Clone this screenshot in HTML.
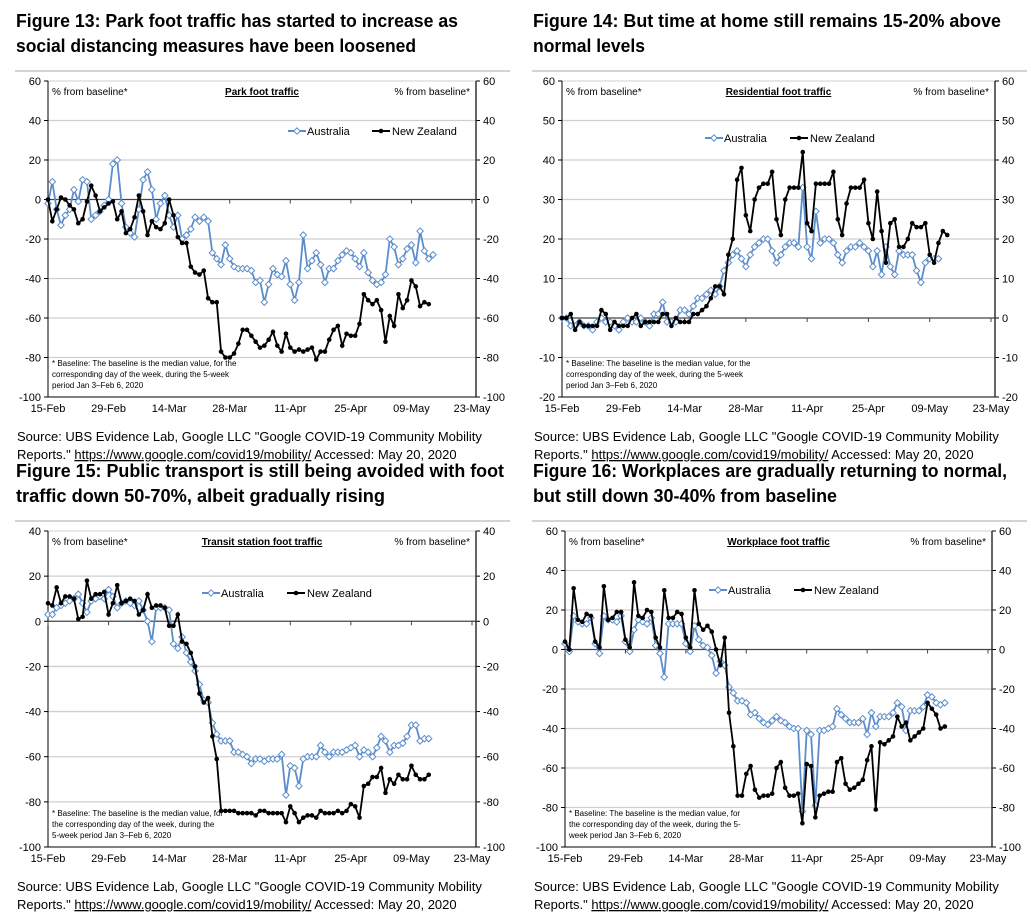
<!DOCTYPE html>
<html><head><meta charset="utf-8"><style>
body{margin:0;background:#fff}
svg{display:block;font-family:"Liberation Sans",Arial,sans-serif}
</style></head><body>
<svg id="root" width="1030" height="923" viewBox="0 0 1030 923" xmlns="http://www.w3.org/2000/svg"></svg>
<script>
const dateTicks=["15-Feb","29-Feb","14-Mar","28-Mar","11-Apr","25-Apr","09-May","23-May"];
const parkAU=[-2,9,-5,-13,-8,-5,5,-1,10,9,-10,-8,-6,-3,0,18,20,-2,-14,-17,-19,-5,10,14,5,-10,-2,2,-8,-14,-8,-20,-18,-15,-9,-11,-9,-11,-27,-30,-33,-23,-30,-34,-35,-35,-35,-36,-42,-41,-52,-43,-35,-38,-39,-31,-43,-51,-42,-18,-35,-31,-27,-33,-42,-35,-35,-31,-28,-26,-27,-30,-34,-27,-37,-41,-43,-42,-38,-20,-24,-33,-30,-25,-23,-32,-16,-26,-30,-28];
const parkNZ=[0,-11,-5,1,0,-3,-5,-12,-10,-1,7,2,-6,-4,-2,-1,-10,-6,-17,-15,-9,2,-6,-18,-11,-14,-15,-12,0,-8,-19,-22,-22,-34,-37,-38,-36,-50,-52,-52,-77,-80,-80,-78,-73,-66,-66,-69,-72,-75,-74,-71,-67,-74,-77,-68,-75,-77,-76,-77,-76,-75,-81,-77,-77,-71,-66,-64,-74,-68,-69,-69,-63,-48,-51,-53,-51,-56,-72,-59,-64,-48,-55,-51,-41,-44,-54,-52,-53];
const resAU=[0,0,-2,-2,-1,-2,-2,-3,-1,0,-1,-1,-2,-3,-1,0,-1,-1,0,-1,-2,1,1,4,-1,-1,-1,2,2,1,3,5,5,6,7,6,8,12,14,16,17,15,13,16,18,19,20,20,17,14,16,18,19,19,18,33,18,15,27,19,20,20,19,16,14,17,18,18,19,18,17,13,17,11,18,13,11,17,16,16,16,12,9,14,15,15,15];
const resNZ=[0,0,1,-3,-1,-2,-2,-2,-2,2,1,-3,-1,-2,-2,-2,0,1,-2,-1,-1,-1,-1,1,1,-2,0,-1,-1,-1,1,1,2,3,5,8,8,6,16,20,35,38,26,22,30,33,34,34,37,25,21,30,33,33,33,42,24,22,34,34,34,34,37,25,21,29,33,33,33,35,24,20,32,22,14,24,25,18,18,20,24,23,23,24,16,14,19,22,21];
const trAU=[3,3,6,7,8,9,10,12,8,4,9,10,11,10,14,11,6,8,9,8,7,9,5,0,-9,6,6,6,5,-10,-12,-7,-14,-18,-22,-28,-35,-36,-45,-50,-53,-53,-53,-58,-58,-59,-60,-63,-61,-61,-62,-61,-61,-61,-59,-77,-64,-65,-73,-61,-60,-60,-60,-55,-58,-60,-58,-58,-58,-57,-56,-55,-60,-57,-58,-60,-56,-51,-53,-58,-55,-55,-54,-51,-46,-46,-53,-52,-52];
const trNZ=[8,7,15,8,11,11,10,1,2,18,10,12,12,13,3,8,16,8,9,10,9,3,5,12,6,7,7,6,-2,-2,3,-9,-10,-14,-20,-32,-36,-34,-51,-61,-84,-84,-84,-84,-85,-85,-85,-85,-86,-84,-84,-85,-85,-85,-85,-89,-82,-85,-89,-87,-86,-86,-87,-84,-85,-85,-85,-84,-85,-84,-81,-82,-87,-73,-72,-69,-69,-65,-76,-70,-72,-68,-70,-70,-64,-68,-70,-70,-68];
const wkAU=[3,-1,17,14,13,13,16,3,-2,17,15,15,14,17,4,-1,10,15,14,13,16,2,-2,-14,13,13,13,13,3,-1,12,5,2,1,-3,-12,-6,-8,-19,-22,-26,-26,-27,-33,-32,-35,-37,-38,-36,-34,-36,-37,-39,-40,-40,-82,-41,-43,-79,-41,-41,-40,-39,-30,-33,-35,-37,-37,-37,-35,-43,-32,-39,-34,-34,-34,-32,-27,-29,-41,-31,-31,-31,-29,-23,-24,-27,-28,-27];
const wkNZ=[4,0,31,15,14,18,17,4,1,32,15,16,19,19,5,1,34,17,16,20,19,6,1,30,16,16,19,18,6,1,30,13,10,12,9,0,-8,6,-32,-49,-74,-74,-63,-59,-71,-75,-74,-74,-73,-60,-57,-70,-74,-74,-73,-88,-58,-59,-85,-74,-73,-72,-72,-57,-55,-68,-71,-70,-68,-66,-56,-49,-81,-47,-48,-46,-44,-34,-39,-37,-46,-44,-42,-40,-27,-30,-33,-40,-39];
const parkTicks=[60,40,20,0,-20,-40,-60,-80,-100];
const resTicks=[60,50,40,30,20,10,0,-10,-20];
const trTicks=[40,20,0,-20,-40,-60,-80,-100];
const wkTicks=[60,40,20,0,-20,-40,-60,-80,-100];

const NS="http://www.w3.org/2000/svg";
const root=document.getElementById('root');
function mk(tag,attrs,parent,text){const e=document.createElementNS(NS,tag);for(const k in attrs)e.setAttribute(k,attrs[k]);if(text!==undefined)e.textContent=text;(parent||root).appendChild(e);return e;}

const panels=[
 {id:'park',bx:15,by:0,L:48,R:476,T:81,B:397,ymax:60,ymin:-100,ticks:parkTicks,au:parkAU,nz:parkNZ,
  t1:"Figure 13: Park foot traffic has started to increase as",t2:"social distancing measures have been loosened",w1:442,w2:400,
  sub:"Park foot traffic",lg:[288,372,131],foot:["* Baseline: The baseline is the median value, for the","corresponding day of the week, during the 5-week","period Jan 3\u2013Feb 6, 2020"]},
 {id:'residential',bx:532,by:0,L:562,R:995,T:81,B:397,ymax:60,ymin:-20,ticks:resTicks,au:resAU,nz:resNZ,
  t1:"Figure 14: But time at home still remains 15-20% above",t2:"normal levels",w1:468,w2:112,
  sub:"Residential foot traffic",lg:[705,790,138],foot:["* Baseline: The baseline is the median value, for the","corresponding day of the week, during the 5-week","period Jan 3\u2013Feb 6, 2020"]},
 {id:'transit',bx:15,by:450,L:48,R:476,T:531,B:847,ymax:40,ymin:-100,ticks:trTicks,au:trAU,nz:trNZ,
  t1:"Figure 15: Public transport is still being avoided with foot",t2:"traffic down 50-70%, albeit gradually rising",w1:488,w2:369,
  sub:"Transit station foot traffic",lg:[202,287,593],foot:["* Baseline: The baseline is the median value, for","the corresponding day of the week, during the","5-week period Jan 3\u2013Feb 6, 2020"]},
 {id:'workplace',bx:532,by:450,L:565,R:992,T:531,B:847,ymax:60,ymin:-100,ticks:wkTicks,au:wkAU,nz:wkNZ,
  t1:"Figure 16: Workplaces are gradually returning to normal,",t2:"but still down 30-40% from baseline",w1:474,w2:304,
  sub:"Workplace foot traffic",lg:[709,794,590],foot:["* Baseline: The baseline is the median value, for","the corresponding day of the week, during the 5-","week period Jan 3\u2013Feb 6, 2020"]}
];
const AUC="#5b8dcc";
function diamond(g,x,y){const e=mk('path',{d:`M${x} ${y-3.2}L${x+3.2} ${y}L${x} ${y+3.2}L${x-3.2} ${y}Z`,fill:'#fff',stroke:AUC,'stroke-width':1},g);}
function dot(g,x,y){const e=mk('circle',{cx:x,cy:y,r:2.3,fill:'#000'},g);}

panels.forEach(p=>{
 const g=mk('g',{});
 const xs=d=>p.L+(p.R-4-p.L)*d/98;
 const ys=v=>p.T+(p.ymax-v)/(p.ymax-p.ymin)*(p.B-p.T);
 mk('text',{x:p.bx+1,y:p.by+27,'font-size':18,'font-weight':'bold',textLength:p.w1,lengthAdjust:'spacingAndGlyphs',},g,p.t1);
 mk('text',{x:p.bx+1,y:p.by+52,'font-size':18,'font-weight':'bold',textLength:p.w2,lengthAdjust:'spacingAndGlyphs',},g,p.t2);
 mk('rect',{x:p.bx,y:p.by+70,width:495,height:2,fill:'#d4d4d4',},g);
 // grid
 p.ticks.forEach(t=>{
  const y=ys(t);
  if(t!==p.ymax&&t!==p.ymin) mk('line',{x1:p.L,x2:p.R,y1:y,y2:y,stroke:t===0?'#444':'#cfcfcf','stroke-width':t===0?1.3:1.3},g);
  mk('line',{x1:p.L-4,x2:p.L,y1:y,y2:y,stroke:'#000'},g);
  mk('line',{x1:p.R,x2:p.R+4,y1:y,y2:y,stroke:'#000'},g);
  mk('text',{x:p.L-7,y:y+4,'font-size':11,'text-anchor':'end',},g,String(t));
  mk('text',{x:p.R+7,y:y+4,'font-size':11,},g,String(t));
 });
 mk('line',{x1:p.L,x2:p.R,y1:p.T,y2:p.T,stroke:'#cfcfcf','stroke-width':1},g);
 mk('line',{x1:p.L,x2:p.L,y1:p.T,y2:p.B,stroke:'#000',},g);
 mk('line',{x1:p.R,x2:p.R,y1:p.T,y2:p.B,stroke:'#333','stroke-width':1.5,},g);
 mk('line',{x1:p.L,x2:p.R,y1:p.B,y2:p.B,stroke:'#000'},g);
 dateTicks.forEach((lab,i)=>{
  const x=xs(i*14);
  mk('line',{x1:x,x2:x,y1:ys(0),y2:ys(0)+4,stroke:'#444'},g);
  mk('text',{x:x,y:p.B+15,'font-size':11,'text-anchor':'middle',},g,lab);
 });
 mk('text',{x:p.L+4,y:p.T+14,'font-size':10,},g,"% from baseline*");
 mk('text',{x:p.R-6,y:p.T+14,'font-size':10,'text-anchor':'end',},g,"% from baseline*");
 mk('text',{x:(p.L+p.R)/2,y:p.T+14,'font-size':10,'font-weight':'bold','text-anchor':'middle','text-decoration':'underline',},g,p.sub);
 p.foot.forEach((s,i)=>mk('text',{x:p.L+4,y:p.B-31+i*11,'font-size':8,},g,s));
 // legend
 const [ax,nx,ly]=p.lg;
 const lgA=mk('g',{},g);
 mk('line',{x1:ax,x2:ax+18,y1:ly,y2:ly,stroke:AUC,'stroke-width':2},lgA);diamond(lgA,ax+9,ly);
 mk('text',{x:ax+19,y:ly+4,'font-size':11},lgA,"Australia");
 const lgN=mk('g',{},g);
 mk('line',{x1:nx,x2:nx+18,y1:ly,y2:ly,stroke:'#000','stroke-width':2},lgN);dot(lgN,nx+9,ly);
 mk('text',{x:nx+20,y:ly+4,'font-size':11},lgN,"New Zealand");
 // series
 const sA=mk('g',{},g);
 mk('polyline',{points:p.au.map((v,i)=>xs(i)+','+ys(v)).join(' '),fill:'none',stroke:AUC,'stroke-width':1.8},sA);
 p.au.forEach((v,i)=>diamond(sA,xs(i),ys(v)));
 const sN=mk('g',{},g);
 mk('polyline',{points:p.nz.map((v,i)=>xs(i)+','+ys(v)).join(' '),fill:'none',stroke:'#000','stroke-width':1.8},sN);
 p.nz.forEach((v,i)=>dot(sN,xs(i),ys(v)));
 // source
 mk('text',{x:p.bx+2,y:p.by+441,'font-size':13,},g,'Source:  UBS Evidence Lab, Google LLC "Google COVID-19 Community Mobility');
 const s2=mk('text',{x:p.bx+2,y:p.by+459,'font-size':13,},g);
 mk('tspan',{},s2,'Reports." ');
 mk('tspan',{'text-decoration':'underline'},s2,'https://www.google.com/covid19/mobility/');
 mk('tspan',{},s2,' Accessed: May 20, 2020');
});
</script>
</body></html>
